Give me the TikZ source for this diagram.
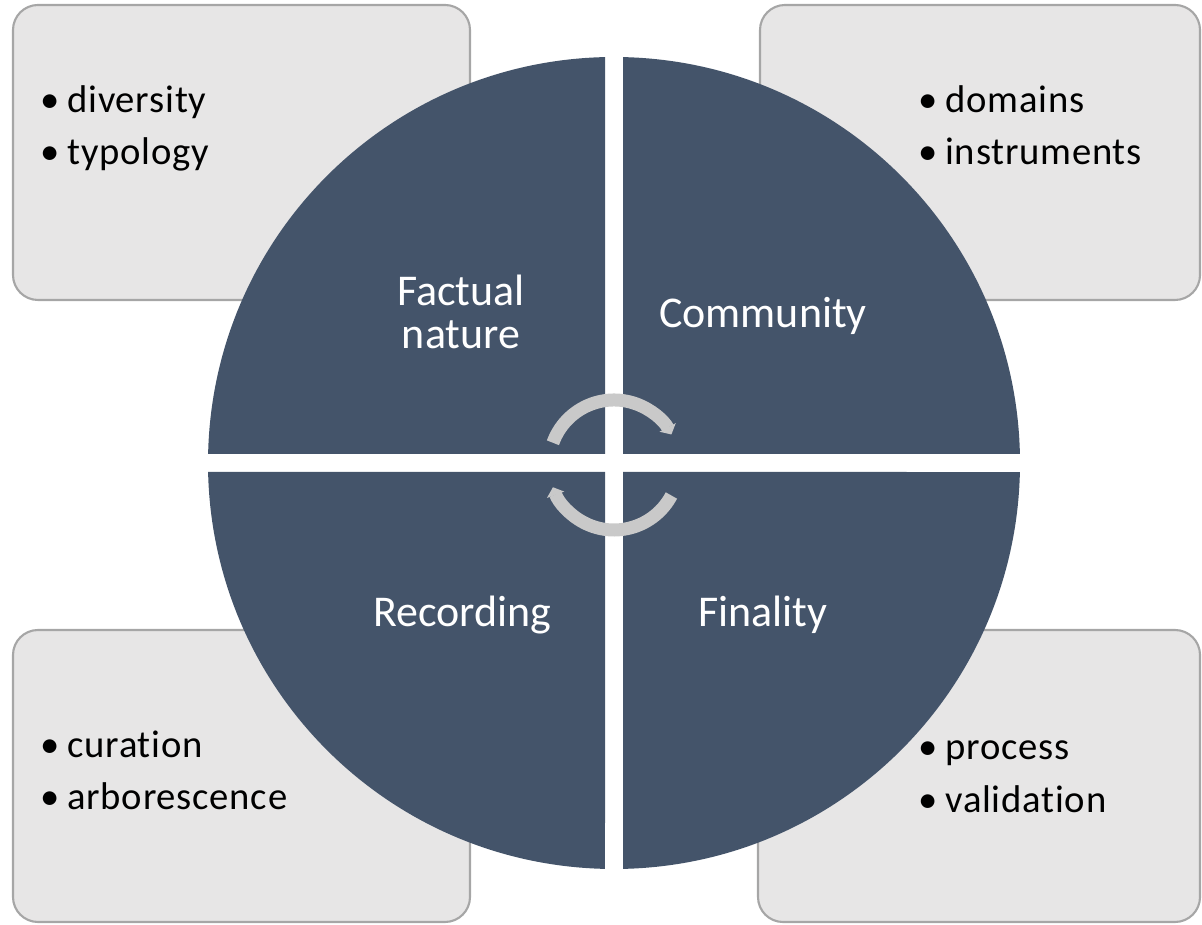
\documentclass[tikz,border=0pt]{standalone}
\usepackage{fontspec}
\setmainfont{Carlito}
\newfontfamily\itemfont[LetterSpace=2,Ligatures=NoCommon]{Carlito}
\usetikzlibrary{positioning}
\usetikzlibrary{arrows.meta}
\definecolor{slate}{HTML}{44546A}
\definecolor{paper}{HTML}{E7E6E6}
\definecolor{frame}{HTML}{A6A6A6}
\definecolor{turn}{HTML}{C9C9C9}
\newcommand\itembullet{\makebox[0.54cm][l]{\textbullet}}
\tikzset{
panel/.style={draw=frame,fill=paper,line width=1.2pt,rounded corners=0.5cm},
quad/.style={fill=slate},
item/.style={anchor=base west,inner sep=0pt,font=\itemfont\fontsize{22}{26}\selectfont},
title/.style={text=white,align=center,inner sep=0pt,font=\fontsize{25}{24.5}\selectfont},
turn/.style={draw=turn,line width=0.26cm,-{Triangle[width=0.36cm,length=0.16cm]}}
}

\begin{document}
\begin{tikzpicture}[x=0.02cm,y=0.02cm]
\useasboundingbox (0,0) rectangle (1202,925);
% boxes behind the circle
\draw[panel] (13,625) rectangle (470,920);
\draw[panel] (760,625) rectangle (1200,920);
\draw[panel] (13,3) rectangle (470,295);
\draw[panel] (758,3) rectangle (1200,295);

% the four quarters
\fill[quad] (605,471) -- (605,867.9) arc[start angle=91.27,end angle=178.73,radius=406] -- cycle;
\fill[quad] (623,471) -- (1019.9,471) arc[start angle=1.27,end angle=88.73,radius=406] -- cycle;
\fill[quad] (605,453) -- (208.1,453) arc[start angle=181.27,end angle=268.73,radius=406] -- cycle;
\fill[quad] (623,453) -- (623,56.1) arc[start angle=271.27,end angle=358.73,radius=406] -- cycle;

% cycle arrows
\draw[turn] (614,460) ++(160:65) arc[start angle=160,end angle=28,radius=65];
\draw[turn] (614,460) ++(-28:65) arc[start angle=-28,end angle=-160,radius=65];

\node[title](factual) at (461,613){Factual\\nature};
\node[title,anchor=base](community) at (763,597){Community};
\node[title,anchor=base](recording) at (462,298){Recording};
\node[title,anchor=base](finality) at (763,298){Finality};

\node[item](diversity) at (40,812){\itembullet diversity};
\node[item](typology) at (40,760){\itembullet typology};
\node[item](domains) at (918,812){\itembullet domains};
\node[item](instruments) at (918,760){\itembullet instruments};
\node[item](curation) at (40,167){\itembullet curation};
\node[item](arborescence) at (40,115){\itembullet arborescence};
\node[item](process) at (918,165){\itembullet process};
\node[item](validation) at (918,112){\itembullet validation};
\end{tikzpicture}
\end{document}
